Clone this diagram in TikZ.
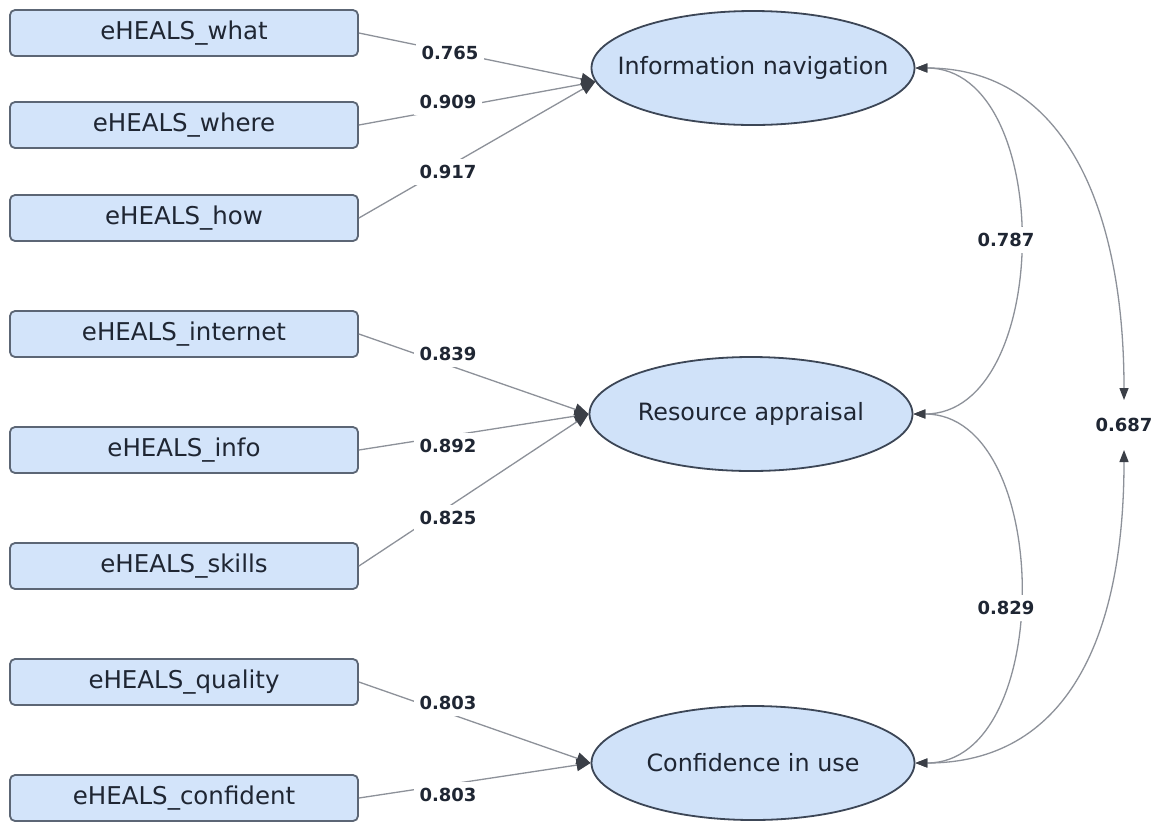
\documentclass[tikz,border=0pt]{standalone}
\usepackage{fontspec}
\setmainfont{DejaVu Sans}
\usetikzlibrary{arrows.meta,shapes.geometric}
\definecolor{boxfill}{HTML}{D3E4FA}
\definecolor{boxdraw}{HTML}{5C6675}
\definecolor{ellfill}{HTML}{D0E2F9}
\definecolor{elldraw}{HTML}{3C4656}
\definecolor{txt}{HTML}{1F2633}
\definecolor{linegray}{HTML}{8D9199}
\definecolor{tipc}{HTML}{3B3F47}
\newcommand{\zw}[1]{\makebox[0pt][c]{#1}}
\begin{document}
\begin{tikzpicture}[x=1pt,y=-1pt,
  ind/.style={draw=boxdraw, fill=boxfill, line width=1.8pt, rounded corners=5pt,
    minimum width=348pt, minimum height=46pt, inner sep=0pt,
    font=\fontsize{24.5}{28}\selectfont, text=txt},
  lat/.style={ellipse, draw=elldraw, fill=ellfill, line width=1.8pt,
    minimum width=323pt, minimum height=114pt, inner sep=0pt,
    font=\fontsize{23.8}{28}\selectfont, text=txt},
  coef/.style={fill=white, inner sep=6pt, font=\bfseries\fontsize{18}{21}\selectfont, text=txt},
  load/.style={draw=linegray, line width=1.3pt, -{Triangle[length=14pt,width=12pt,color=tipc]}},
  cov/.style={draw=linegray, line width=1.3pt,
    {Triangle[length=12pt,width=9pt,color=tipc]}-{Triangle[length=12pt,width=9pt,color=tipc]}}
]
\useasboundingbox (0,0) rectangle (1159,823);
\fill[white] (0,0) rectangle (1159,823);

% observed indicators
\node[ind] (what) at (184,33) {eHEALS\_what};
\node[ind] (where) at (184,125) {eHEALS\_where};
\node[ind] (how) at (184,218) {eHEALS\_how};
\node[ind] (internet) at (184,334) {eHEALS\_internet};
\node[ind] (info) at (184,450) {eHEALS\_info};
\node[ind] (skills) at (184,566) {eHEALS\_skills};
\node[ind] (quality) at (184,682) {eHEALS\_quality};
\node[ind] (confident) at (184,798) {eHEALS\_confident};

% latent factors
\node[lat] (IN) at (753,68) {\zw{Information navigation}};
\node[lat] (RA) at (751,414) {\zw{Resource appraisal}};
\node[lat] (CU) at (753,763) {\zw{Confidence in use}};

% loadings
\draw[load] (what.east) -- (IN.185);
\draw[load] (where.east) -- (IN.185);
\draw[load] (how.east) -- (IN.185);
\draw[load] (internet.east) -- (RA.west);
\draw[load] (info.east) -- (RA.west);
\draw[load] (skills.east) -- (RA.west);
\draw[load] (quality.east) -- (CU.west);
\draw[load] (confident.east) -- (CU.west);

% covariances
\coordinate (c3t) at (1124,400);
\coordinate (c3b) at (1124,450);
\draw[cov] (IN.east) .. controls +(140,0) and +(140,0) .. (RA.east);
\draw[cov] (RA.east) .. controls +(140,0) and +(140,0) .. (CU.east);
\draw[cov] (IN.east) .. controls +(150,0) and +(0,-190) .. (c3t);
\draw[cov] (CU.east) .. controls +(150,0) and +(0,190) .. (c3b);

% coefficient labels
\node[coef] (l1) at (450,53) {0.765};
\node[coef] (l2) at (448,102) {0.909};
\node[coef] (l3) at (448,172) {0.917};
\node[coef] (l4) at (448,354) {0.839};
\node[coef] (l5) at (448,446) {0.892};
\node[coef] (l6) at (448,518) {0.825};
\node[coef] (l7) at (448,703) {0.803};
\node[coef] (l8) at (448,795) {0.803};
\node[coef] (l9) at (1006,240) {0.787};
\node[coef] (l10) at (1006,608) {0.829};
\node[coef, inner sep=3pt] (l11) at (1124,425) {0.687};
\end{tikzpicture}
\end{document}
